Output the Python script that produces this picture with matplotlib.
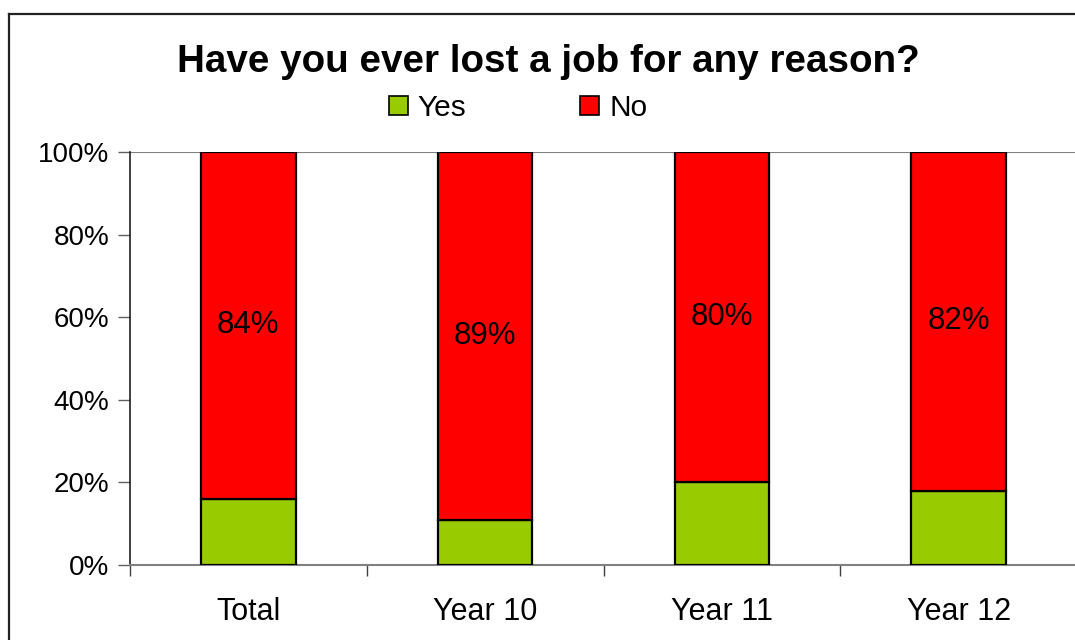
import matplotlib
matplotlib.use("Agg")
import matplotlib.pyplot as plt
from matplotlib.lines import Line2D
from matplotlib.patches import Patch

plt.rcParams['font.family'] = ['Liberation Sans', 'DejaVu Sans']

categories = ["Total", "Year 10", "Year 11", "Year 12"]
yes_vals = [16, 11, 20, 18]
no_vals = [84, 89, 80, 82]
yticks = [0, 20, 40, 60, 80, 100]
title = "Have you ever lost a job for any reason?"

green = "#99CC00"
red = "#FF0000"

W, H = 1075, 640
fig = plt.figure(figsize=(W / 100, H / 100), dpi=100)
fig.patch.set_facecolor("white")

# outer chart border (only top and left edges are visible in the crop)
bx, by = 8.5 / W, 1 - 14.3 / H
fig.add_artist(Line2D([bx, 0.999], [by, by], transform=fig.transFigure,
                      color="#222222", linewidth=1.6))
fig.add_artist(Line2D([bx, bx], [0.0, by], transform=fig.transFigure,
                      color="#222222", linewidth=1.6))

ax = fig.add_axes([130 / W, 75 / H, (1077 - 130) / W, (565 - 152) / H])
ax.patch.set_visible(False)
x = list(range(len(categories)))
width = 0.4
ax.bar(x, yes_vals, width, color=green, edgecolor="black", linewidth=1.6, label="Yes", zorder=3)
ax.bar(x, no_vals, width, bottom=yes_vals, color=red, edgecolor="black", linewidth=1.6, label="No", zorder=3)

for xi, y0, h in zip(x, yes_vals, no_vals):
    ax.text(xi, y0 + h / 2, f"{h}%", ha="center", va="center", fontsize=22.5, color="black", zorder=4)

ax.set_xlim(-0.5, len(categories) - 0.5)
ax.set_ylim(0, 100)
ax.set_yticks(yticks)
ax.set_yticklabels([f"{v}%" for v in yticks], fontsize=20)
ax.axhline(100, color="#808080", linewidth=1.5, zorder=1)

ax.set_xticks([i - 0.5 for i in range(len(categories))])
ax.set_xticklabels([])
ax.set_xticks(x, minor=True)
ax.set_xticklabels(categories, minor=True, fontsize=22)
ax.tick_params(axis="x", which="minor", length=0, pad=23)
ax.tick_params(axis="x", which="major", length=8, width=1, color="#404040", direction="out")
ax.tick_params(axis="y", length=9, width=1, color="#606060", direction="out", pad=6)

for s in ["top", "right"]:
    ax.spines[s].set_visible(False)
ax.spines["left"].set_color("#202020")
ax.spines["left"].set_linewidth(1.2)
ax.spines["bottom"].set_color("#808080")
ax.spines["bottom"].set_linewidth(1.5)

fig.text(548 / W, 1 - 72 / H, title, ha="center", va="baseline", fontsize=27.8, fontweight="bold")

handles = [Patch(facecolor=green, edgecolor="black", linewidth=1.2),
           Patch(facecolor=red, edgecolor="black", linewidth=1.2)]
fig.legend(handles, ["Yes", "No"], loc="center", bbox_to_anchor=(518 / W, 1 - 108 / H),
           ncol=2, frameon=False, fontsize=21.5, handlelength=0.64, handleheight=0.64,
           handletextpad=0.33, columnspacing=3.8, borderpad=0, borderaxespad=0)

fig.savefig("out.png", dpi=100, facecolor="white")
